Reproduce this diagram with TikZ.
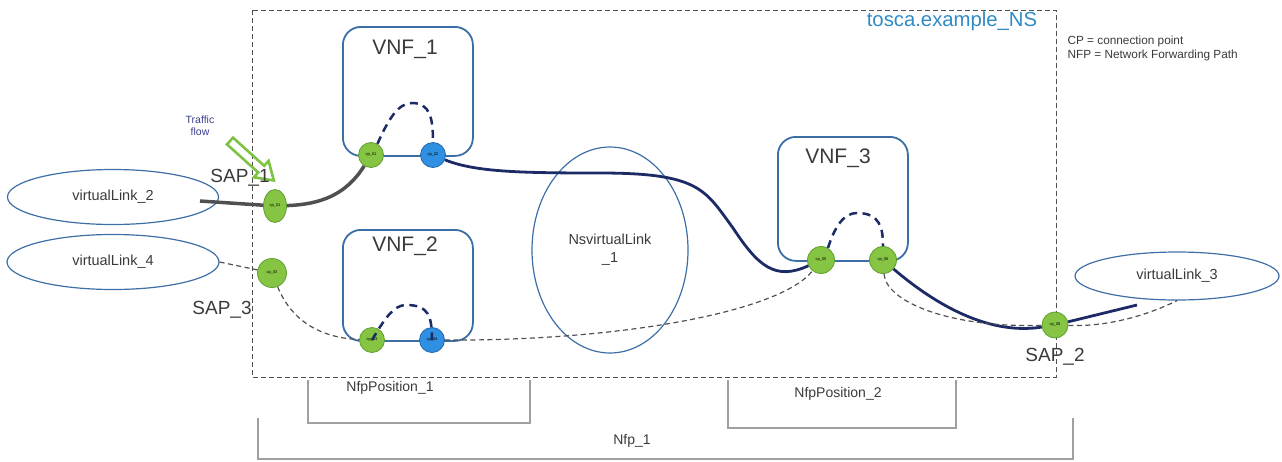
\documentclass[tikz,border=0pt]{standalone}
\usepackage{fontspec}
\setmainfont{Liberation Sans}
\usetikzlibrary{shapes.geometric}
\definecolor{boxblue}{HTML}{3A6EA5}
\definecolor{ellblue}{HTML}{3D6FA6}
\definecolor{toscablue}{HTML}{2F8BC6}
\definecolor{navyc}{HTML}{1C2B66}
\definecolor{cpgreen}{HTML}{86C443}
\definecolor{cpgreenD}{HTML}{5E9E2E}
\definecolor{cpblue}{HTML}{2F8FE0}
\definecolor{cpblueD}{HTML}{1F66B0}
\definecolor{txt}{HTML}{3A3A3A}
\definecolor{brk}{HTML}{A0A0A0}
\definecolor{flowc}{HTML}{3B3F8F}
\definecolor{grayln}{HTML}{505050}
\definecolor{arrowg}{HTML}{7DC242}
\begin{document}
\begin{tikzpicture}[x=1pt,y=-1pt,
  vnfbox/.style={draw=boxblue, line width=1.8, rounded corners=18, inner sep=0, anchor=north west},
  vnftext/.style={text=txt, font=\fontsize{21}{24}\selectfont},
  saptext/.style={text=txt, font=\fontsize{19}{22}\selectfont},
  vlink/.style={ellipse, draw=ellblue, line width=1.2, inner sep=0, text=txt, font=\fontsize{14.5}{17}\selectfont},
  cpg/.style={circle, draw=cpgreenD, fill=cpgreen, line width=0.8, minimum size=25, inner sep=0, font=\fontsize{4}{4}\selectfont},
  cpb/.style={circle, draw=cpblueD, fill=cpblue, line width=0.8, minimum size=25, inner sep=0, font=\fontsize{4}{4}\selectfont},
  grayline/.style={draw=grayln, line width=3.5},
  navyline/.style={draw=navyc, line width=2.8},
  thindash/.style={draw=grayln, line width=1.2, dash pattern=on 5 off 3.5},
  arcline/.style={draw=navyc, line width=2.5, dash pattern=on 8 off 5.5},
  nsbox/.style={draw=grayln, line width=1, dash pattern=on 5 off 3},
  bracket/.style={draw=brk, line width=1.5},
  nfptext/.style={text=txt, font=\fontsize{14}{16}\selectfont},
  legtext/.style={text=txt, font=\fontsize{11.8}{13}\selectfont, anchor=west}
]
\useasboundingbox (0,0) rectangle (1282,461);

% outer NS box
\draw[nsbox] (252,10) rectangle (1056,377);
\node[text=toscablue, font=\fontsize{20.3}{23}\selectfont] (tosca) at (952,21) {tosca.example\_NS};
\node[legtext] (leg1) at (1064,41) {CP = connection point};
\node[legtext] (leg2) at (1064,55) {NFP = Network Forwarding Path};

% VNF boxes
\node[vnfbox, minimum width=130, minimum height=129] (vnf1) at (342,26) {};
\node[vnftext] (vnf1t) at (405,49) {VNF\_1};
\node[vnfbox, minimum width=130, minimum height=111] (vnf2) at (342,229) {};
\node[vnftext] (vnf2t) at (405,246) {VNF\_2};
\node[vnfbox, minimum width=130, minimum height=124] (vnf3) at (777,136) {};
\node[vnftext] (vnf3t) at (838,158) {VNF\_3};

% virtual links
\node[vlink, minimum width=211, minimum height=55] (vl2) at (113,197) {virtualLink\_2};
\node[vlink, minimum width=212, minimum height=55] (vl4) at (113,262) {virtualLink\_4};
\node[vlink, minimum width=204, minimum height=48] (vl3) at (1177,276) {virtualLink\_3};
\node[vlink, minimum width=156, minimum height=206, align=center] (nsvl) at (610,250) {NsvirtualLink\\[1pt]\_1};

% connection points
\node[cpg, ellipse, minimum width=23, minimum height=33] (sap1) at (275,206) {cp\_01};
\node[cpg] (v1a) at (371,155) {cp\_01};
\node[cpb] (v1b) at (433,155) {cp\_02};
\node[cpg, minimum size=29] (sap3) at (272,273) {cp\_03};
\node[cpg] (v2a) at (372,340) {cp\_03};
\node[cpb] (v2b) at (432,340) {cp\_04};
\node[cpg, minimum size=27] (v3a) at (821,260) {cp\_05};
\node[cpg, minimum size=27] (v3b) at (883,260) {cp\_06};
\node[cpg, minimum size=26] (sap2) at (1055,325) {cp\_08};

% traffic flow
\node[text=flowc, font=\fontsize{10.5}{12}\selectfont, align=center] (flow) at (200,126) {Traffic\\flow};
\begin{scope}[shift={(230,141)}, rotate=-42]
  \draw[draw=arrowg, line width=2.6, line join=miter]
    (0,-4.5) -- (42,-4.5) -- (42,-11) -- (59,0) -- (42,11) -- (42,4.5) -- (0,4.5) -- cycle;
\end{scope}

% SAP labels
\node[saptext] (sap1t) at (240,178) {SAP\_1};
\node[saptext] (sap3t) at (222,310) {SAP\_3};
\node[saptext] (sap2t) at (1055,357) {SAP\_2};

% thick gray path
\coordinate (g0) at (200,201);
\draw[grayline] (g0) -- (sap1);
\draw[grayline] (sap1) to[out=2, in=238] (v1a);

% thick navy path
\draw[navyline] (v1b) .. controls (475,172) and (520,173) .. (600,173)
  .. controls (700,173) and (705,190) .. (733,228)
  .. controls (758,266) and (775,281) .. (v3a);
\coordinate (vl3in) at (1137,305);
\draw[navyline] (v3b) .. controls (930,300) and (985,336) .. (sap2);
\draw[navyline] (sap2) -- (vl3in);

% thin dashed path
\draw[thindash] (vl4.east) -- (sap3);
\draw[thindash] (sap3) .. controls (292,322) and (322,338) .. (v2a);
\draw[thindash] (v2b) .. controls (620,341) and (780,312) .. (v3a);
\draw[thindash] (v3b) .. controls (886,302) and (950,328) .. (sap2);
\draw[thindash] (sap2) .. controls (1110,327) and (1150,314) .. (vl3.south);

% internal VNF arcs
\draw[arcline] (v1a.60) .. controls (388,120) and (398,103) .. (412,103) .. controls (430,103) and (433,118) .. (v1b.north);
\draw[arcline] (v2a.center) .. controls (385,318) and (394,305) .. (406,305) .. controls (428,305) and (432,315) .. (v2b.center);
\draw[arcline] (v3a.60) .. controls (835,226) and (844,213) .. (857,213) .. controls (880,213) and (883,228) .. (v3b.north);

% brackets
\draw[bracket] (308,380) -- (308,423) -- (530,423) -- (530,380);
\node[nfptext] (np1) at (390,388) {NfpPosition\_1};
\draw[bracket] (728,380) -- (728,428) -- (956,428) -- (956,380);
\node[nfptext] (np2) at (838,394) {NfpPosition\_2};
\draw[bracket] (258,418) -- (258,459) -- (1073,459) -- (1073,418);
\node[nfptext] (nfp) at (632,441) {Nfp\_1};
\end{tikzpicture}
\end{document}
